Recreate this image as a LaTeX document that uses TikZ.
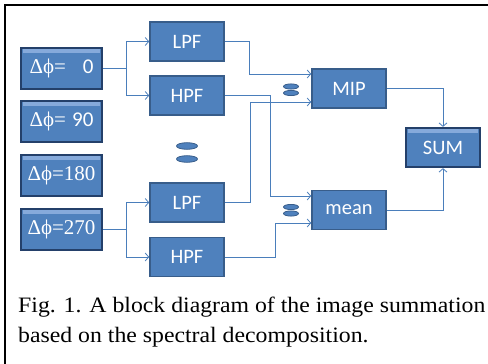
\documentclass[tikz,border=0pt]{standalone}
\usepackage{fontspec}
\newfontfamily\capfont[FakeStretch=1.08]{Liberation Serif}
\newfontfamily\phfont{Liberation Serif}
\newfontfamily\boxfont{Carlito}
\usepackage{tikz}
\usetikzlibrary{arrows.meta}
\definecolor{boxblue}{HTML}{4F81BD}
\definecolor{boxedge}{HTML}{385D8A}
\definecolor{bevedge}{HTML}{24406A}
\definecolor{bevlight}{HTML}{86AADB}
\definecolor{linkblue}{HTML}{4A7EBB}

\begin{document}
\begin{tikzpicture}[x=1pt, y=-1pt,
	box/.style={draw=boxedge, line width=1.6pt, fill=boxblue, minimum width=74pt, minimum height=39pt, inner sep=0pt, text=white, font=\boxfont\fontsize{20.5}{20.5}\selectfont},
	bevel/.style={box, draw=bevedge, line width=2.2pt, path picture={\fill[bevlight] ([xshift=2pt, yshift=-1pt]path picture bounding box.north west) rectangle ([xshift=-2pt, yshift=-4.5pt]path picture bounding box.north east);}},
	phase/.style={bevel, minimum width=81pt, minimum height=41pt, font=\phfont\fontsize{21}{21}\selectfont},
	link/.style={draw=linkblue, line width=0.8pt},
	arr/.style={link, -{Straight Barb[length=3.5pt, width=8pt]}},
	dots/.style={fill=boxblue, draw=boxedge, line width=0.8pt},
	captext/.style={anchor=base west, inner sep=0pt, font=\capfont\fontsize{22}{30}\selectfont}]
	\useasboundingbox (0,0) rectangle (488,364);
	\draw[line width=2pt] (5,364) -- (5,5) -- (488,5);
	% phase inputs
	\node[phase] (phA) at (61.5,68.5) {\makebox[64pt]{Δϕ=\hfill{\boxfont 0}}};
	\node[phase] (phB) at (61.5,121.5) {\makebox[64pt]{Δϕ=\hfill{\boxfont 90}}};
	\node[phase] (phC) at (61.5,175.5) {\makebox[64pt]{Δϕ=\hfill 180}};
	\node[phase] (phD) at (61.5,229.5) {\makebox[64pt]{Δϕ=\hfill 270}};
	% filters
	\node[box] (lpfA) at (187,41.5) {LPF};
	\node[box] (hpfA) at (187,95.5) {HPF};
	\node[box] (lpfB) at (187,202.5) {LPF};
	\node[box] (hpfB) at (187,257) {HPF};
	\node[box] (mip) at (349,88.5) {MIP};
	\node[box] (mean) at (349,210) {mean};
	\node[bevel] (sum) at (443,147.5) {SUM};
	% dots
	\filldraw[dots] (187,146) ellipse [x radius=10.5pt, y radius=3.3pt];
	\filldraw[dots] (187,159) ellipse [x radius=10.5pt, y radius=3.3pt];
	\filldraw[dots] (291,86.5) ellipse [x radius=7.5pt, y radius=2.6pt];
	\filldraw[dots] (291,93) ellipse [x radius=7.5pt, y radius=2.6pt];
	\filldraw[dots] (291,207) ellipse [x radius=7.5pt, y radius=2.6pt];
	\filldraw[dots] (291,213.5) ellipse [x radius=7.5pt, y radius=2.6pt];
	% connectors
	\coordinate (forkA) at (126,68.5);
	\coordinate (forkD) at (126,229.5);
	\draw[link] (phA) -- (forkA);
	\draw[arr] (forkA) |- (lpfA);
	\draw[arr] (forkA) |- (hpfA);
	\draw[link] (phD) -- (forkD);
	\draw[arr] (forkD) |- (lpfB);
	\draw[arr] (forkD) |- (hpfB);
	\draw[arr] (lpfA.east) -- ++(25,0) |- ([yshift=14.5pt]mip.west);
	\draw[arr] (hpfA.east) -- ++(46,0) |- ([yshift=14pt]mean.west);
	\draw[arr] (lpfB.east) -- ++(26,0) |- ([yshift=-13.5pt]mip.west);
	\draw[arr] (hpfB.east) -- ++(51,0) |- ([yshift=-13pt]mean.west);
	\draw[arr] (mip.east) -| (sum.north);
	\draw[arr] (mean.east) -| (sum.south);
	% caption
	\node[captext] (capA) at (18,312) {Fig. 1. A block diagram of the image summation};
	\node[captext] (capB) at ([yshift=-30pt]capA.base west) {based on the spectral decomposition.};
\end{tikzpicture}
\end{document}
